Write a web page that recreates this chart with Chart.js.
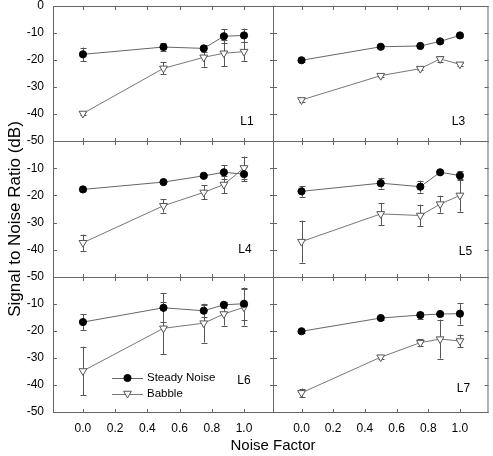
<!DOCTYPE html>
<html>
<head>
<meta charset="utf-8">
<script src="https://cdn.jsdelivr.net/npm/chart.js@4.4.0/dist/chart.umd.min.js"></script>
<style>
  body { margin: 0; background: #fff; }
  #wrap { position: relative; width: 493px; height: 456px; overflow: hidden; }
  #wrap canvas { position: absolute; left: 0; top: 0; }
  .title { position: absolute; font-family: "Liberation Sans", Arial, sans-serif; color: #000; text-align: center; white-space: nowrap; }
  #xtitle { left: 173px; width: 200px; top: 436px; font-size: 15px; line-height: 18px; }
  #ytitle { left: -135px; width: 300px; top: 209px; font-size: 17px; line-height: 20px; transform: rotate(-90deg); }
</style>
</head>
<body>
<div id="wrap">
  <canvas id="p1" width="493" height="456"></canvas>
  <canvas id="p2" width="493" height="456"></canvas>
  <canvas id="p3" width="493" height="456"></canvas>
  <canvas id="p4" width="493" height="456"></canvas>
  <canvas id="p5" width="493" height="456"></canvas>
  <canvas id="p6" width="493" height="456"></canvas>
  <div id="xtitle" class="title">Noise Factor</div>
  <div id="ytitle" class="title">Signal to Noise Ratio (dB)</div>
</div>
<script>
// valeurs
var noiseFactor = [0, 0.5, 0.75, 0.875, 1.0];
var xTickValues = [0.0, 0.2, 0.4, 0.6, 0.8, 1.0];
var yTickValues = [0, -10, -20, -30, -40, -50];
var seriesNames = ['Steady Noise', 'Babble'];

var steadyL1 = [-17.9, -15.2, -15.7, -11.2, -10.9];
var steadyErrL1 = [2.5, 1.5, 1.2, 2.6, 2.5];
var babbleL1 = [-39.8, -23.1, -19.0, -17.5, -16.9];
var babbleErrL1 = [0.6, 2.2, 3.5, 4.8, 3.4];

var steadyL3 = [-20.1, -15.1, -14.8, -13.1, -10.9];
var steadyErrL3 = [0.5, 0.5, 0.5, 0.6, 0.5];
var babbleL3 = [-34.8, -25.8, -23.2, -19.6, -21.6];
var babbleErrL3 = [0.6, 0.6, 0.6, 1.0, 0.6];

var steadyL4 = [-17.8, -15.1, -12.8, -11.5, -12.2];
var steadyErrL4 = [0.5, 0.5, 0.5, 2.5, 2.6];
var babbleL4 = [-37.4, -23.8, -18.9, -16.0, -9.9];
var babbleErrL4 = [3.0, 2.5, 2.6, 3.3, 4.2];

var steadyL5 = [-18.5, -15.5, -16.8, -11.5, -12.7];
var steadyErrL5 = [2.0, 2.0, 2.2, 0.8, 1.5];
var babbleL5 = [-37.0, -26.8, -27.4, -23.2, -20.0];
var babbleErrL5 = [7.7, 4.1, 4.0, 3.1, 6.0];

var steadyL6 = [-16.7, -11.4, -12.5, -10.3, -9.9];
var steadyErrL6 = [2.9, 5.4, 2.3, 1.0, 6.0];
var babbleL6 = [-34.8, -19.0, -17.1, -13.7, -11.2];
var babbleErrL6 = [9.0, 9.6, 7.2, 4.3, 6.8];

var steadyL7 = [-20.1, -15.2, -14.1, -13.7, -13.6];
var steadyErrL7 = [0.5, 0.6, 1.3, 0.8, 4.0];
var babbleL7 = [-42.9, -29.7, -24.3, -23.0, -23.7];
var babbleErrL7 = [1.6, 0.8, 1.3, 7.2, 2.4];

// mise en page (pixels)
var W = 493, H = 456;
var rowTop = [6, 141, 277];
var rowBottom = [141, 277, 412];
var colLeft = [53, 273];
var colRight = [273, 491];
var xRange = [[-0.186, 1.180], [-0.180, 1.174]];
var FONT = '"Liberation Sans", Arial, sans-serif';

var panels = [
  { id: 'p1', name: 'L1', row: 0, col: 0, steady: steadyL1, steadyErr: steadyErrL1, babble: babbleL1, babbleErr: babbleErrL1, lab: [-26, -19] },
  { id: 'p2', name: 'L3', row: 0, col: 1, steady: steadyL3, steadyErr: steadyErrL3, babble: babbleL3, babbleErr: babbleErrL3, lab: [-29, -19] },
  { id: 'p3', name: 'L4', row: 1, col: 0, steady: steadyL4, steadyErr: steadyErrL4, babble: babbleL4, babbleErr: babbleErrL4, lab: [-28, -27] },
  { id: 'p4', name: 'L5', row: 1, col: 1, steady: steadyL5, steadyErr: steadyErrL5, babble: babbleL5, babbleErr: babbleErrL5, lab: [-22, -25] },
  { id: 'p5', name: 'L6', row: 2, col: 0, steady: steadyL6, steadyErr: steadyErrL6, babble: babbleL6, babbleErr: babbleErrL6, lab: [-29, -31], legend: true },
  { id: 'p6', name: 'L7', row: 2, col: 1, steady: steadyL7, steadyErr: steadyErrL7, babble: babbleL7, babbleErr: babbleErrL7, lab: [-24, -23] }
];

function toPoints(ys) {
  return ys.map(function (y, i) { return { x: noiseFactor[i], y: y }; });
}

// barres d'erreur, cadre, graduations internes, nom du panneau, légende
var panelDecor = {
  id: 'panelDecor',
  beforeDatasetsDraw: function (chart) {
    var ctx = chart.ctx, xs = chart.scales.x, ys = chart.scales.y;
    ctx.save();
    ctx.strokeStyle = '#555';
    ctx.lineWidth = 1;
    chart.data.datasets.forEach(function (ds) {
      ds.data.forEach(function (p, j) {
        var e = ds.errors[j];
        var x = Math.round(xs.getPixelForValue(p.x)) + 0.5;
        var y1 = ys.getPixelForValue(p.y + e);
        var y2 = ys.getPixelForValue(p.y - e);
        ctx.beginPath();
        ctx.moveTo(x, y1); ctx.lineTo(x, y2);
        ctx.moveTo(x - 3, Math.round(y1) + 0.5); ctx.lineTo(x + 3, Math.round(y1) + 0.5);
        ctx.moveTo(x - 3, Math.round(y2) + 0.5); ctx.lineTo(x + 3, Math.round(y2) + 0.5);
        ctx.stroke();
      });
    });
    ctx.restore();
  },
  afterDraw: function (chart, args, opts) {
    var ctx = chart.ctx, a = chart.chartArea, xs = chart.scales.x, ys = chart.scales.y;
    ctx.save();
    ctx.strokeStyle = '#666';
    ctx.lineWidth = 1;
    ctx.strokeRect(a.left + 0.5, a.top + 0.5, a.right - a.left, a.bottom - a.top);
    ctx.beginPath();
    xTickValues.forEach(function (v) {
      var x = Math.round(xs.getPixelForValue(v)) + 0.5;
      ctx.moveTo(x, a.top); ctx.lineTo(x, a.top + 4);
      ctx.moveTo(x, a.bottom + 1); ctx.lineTo(x, a.bottom - 3);
    });
    yTickValues.forEach(function (v) {
      var y = Math.round(ys.getPixelForValue(v)) + 0.5;
      ctx.moveTo(a.left, y); ctx.lineTo(a.left + 4, y);
      ctx.moveTo(a.right + 1, y); ctx.lineTo(a.right - 3, y);
    });
    ctx.stroke();

    ctx.fillStyle = '#000';
    ctx.font = '12px ' + FONT;
    ctx.textAlign = 'center';
    ctx.textBaseline = 'middle';
    ctx.fillText(opts.name, a.right + opts.lab[0], a.bottom + opts.lab[1]);

    if (opts.legend) {
      var lx = a.left + 59, ly = a.top + 101;
      chart.data.datasets.forEach(function (ds, i) {
        var y = ly + i * 15.5;
        ctx.strokeStyle = ds.borderColor;
        ctx.beginPath();
        ctx.moveTo(lx, Math.round(y) + 0.5); ctx.lineTo(lx + 31, Math.round(y) + 0.5);
        ctx.stroke();
        ctx.fillStyle = ds.pointBackgroundColor;
        ctx.strokeStyle = ds.pointBorderColor;
        Chart.helpers.drawPoint(ctx, { pointStyle: ds.pointStyle, rotation: ds.rotation || 0, radius: ds.pointRadius, borderWidth: 1 }, lx + 15.5, y);
        ctx.fillStyle = '#000';
        ctx.font = '11.5px ' + FONT;
        ctx.textAlign = 'left';
        ctx.fillText(ds.label, lx + 35, y);
      });
    }
    ctx.restore();
  }
};

panels.forEach(function (p) {
  var bottomRow = p.row === 2;
  var leftCol = p.col === 0;
  var xAxisH = 24;

  new Chart(document.getElementById(p.id).getContext('2d'), {
    type: 'line',
    data: {
      datasets: [{
        label: seriesNames[0],
        data: toPoints(p.steady),
        errors: p.steadyErr,
        borderColor: '#666',
        borderWidth: 1,
        pointStyle: 'circle',
        pointRadius: 3.6,
        pointBackgroundColor: '#000',
        pointBorderColor: '#000',
        pointBorderWidth: 1,
        tension: 0,
        fill: false
      }, {
        label: seriesNames[1],
        data: toPoints(p.babble),
        errors: p.babbleErr,
        borderColor: '#777',
        borderWidth: 1,
        pointStyle: 'triangle',
        rotation: 180,
        pointRotation: 180,
        pointRadius: 4.5,
        pointBackgroundColor: '#fff',
        pointBorderColor: '#555',
        pointBorderWidth: 1,
        tension: 0,
        fill: false
      }]
    },
    options: {
      responsive: false,
      animation: false,
      events: [],
      layout: {
        padding: {
          left: leftCol ? 0 : colLeft[1],
          right: W - colRight[p.col],
          top: rowTop[p.row],
          bottom: bottomRow ? H - rowBottom[2] - xAxisH : H - rowBottom[p.row]
        }
      },
      plugins: {
        legend: { display: false },
        tooltip: { enabled: false },
        panelDecor: { name: p.name, lab: p.lab, legend: !!p.legend }
      },
      scales: {
        x: {
          type: 'linear',
          min: xRange[p.col][0],
          max: xRange[p.col][1],
          grid: { display: false, drawTicks: false },
          border: { display: false },
          afterBuildTicks: function (s) { s.ticks = xTickValues.map(function (v) { return { value: v }; }); },
          afterFit: function (s) { s.height = bottomRow ? xAxisH : 0; s.paddingLeft = 0; s.paddingRight = 0; },
          ticks: {
            display: bottomRow,
            padding: 9,
            color: '#000',
            font: { family: FONT, size: 12 },
            maxRotation: 0,
            callback: function (v) { return v.toFixed(1); }
          }
        },
        y: {
          min: -50,
          max: 0,
          grid: { display: false, drawTicks: false },
          border: { display: false },
          afterBuildTicks: function (s) { s.ticks = yTickValues.map(function (v) { return { value: v }; }); },
          afterFit: function (s) { s.width = leftCol ? colLeft[0] : 0; s.paddingTop = 0; s.paddingBottom = 0; },
          ticks: {
            display: leftCol,
            padding: 9,
            color: '#000',
            font: { family: FONT, size: 12 },
            callback: function (v) { return (v === 0 && p.row > 0) ? '' : String(v); }
          }
        }
      }
    },
    plugins: [panelDecor]
  });
});
</script>
</body>
</html>
